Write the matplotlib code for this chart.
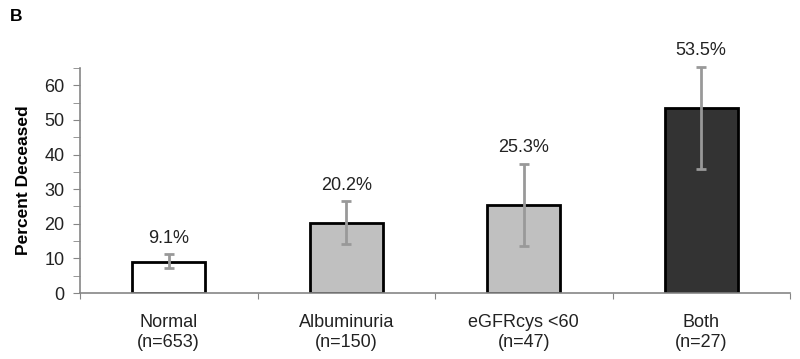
import matplotlib
matplotlib.use("Agg")
import matplotlib.pyplot as plt
import numpy as np
from matplotlib.ticker import MultipleLocator

categories = ["Normal\n(n=653)", "Albuminuria\n(n=150)", "eGFRcys <60\n(n=47)", "Both\n(n=27)"]
values = [9.1, 20.2, 25.3, 53.5]
err_low = [7.3, 14.2, 13.6, 35.7]
err_high = [11.2, 26.5, 37.4, 65.3]
labels = ["9.1%", "20.2%", "25.3%", "53.5%"]
colors = ["#ffffff", "#c0c0c0", "#c0c0c0", "#333333"]

plt.rcParams['font.family'] = ['Liberation Sans', 'DejaVu Sans']

fig = plt.figure(figsize=(8, 3.59), dpi=100)
ax = fig.add_axes([0.1, 0.1838, 0.8875, 0.6268])

x = np.arange(len(values))
ax.bar(x, values, width=0.41, color=colors, edgecolor="black", linewidth=2, zorder=2)
yerr = [np.array(values) - np.array(err_low), np.array(err_high) - np.array(values)]
eb = ax.errorbar(x, values, yerr=yerr, fmt="none", ecolor="#999999", elinewidth=2,
                 capsize=3.3, capthick=2, zorder=3)
for artist in eb.lines[1] + eb.lines[2]:
    artist.set_clip_on(False)
for xi, top, lab in zip(x, err_high, labels):
    ax.annotate(lab, (xi, top), xytext=(0, 5.5), textcoords="offset points",
                ha="center", va="bottom", fontsize=13, color="#222222",
                annotation_clip=False)

ax.set_xlim(-0.5, len(values) - 0.5)
ax.set_ylim(0, 65)
ax.yaxis.set_major_locator(MultipleLocator(10))
ax.yaxis.set_minor_locator(MultipleLocator(5))
ax.set_xticks(np.arange(-0.5, len(values), 1.0))
ax.set_xticklabels([])
ax.set_xticks(x, minor=True)
ax.set_xticklabels(categories, minor=True, fontsize=13, color="#222222", linespacing=1.25)
ax.tick_params(axis="x", which="minor", length=0, pad=15)
ax.tick_params(axis="x", which="major", length=4, color="#868686", direction="out")
ax.tick_params(axis="y", which="both", length=5, color="#868686", direction="out",
               labelsize=13, labelcolor="#222222", pad=6)

for s in ["top", "right"]:
    ax.spines[s].set_visible(False)
for s in ["left", "bottom"]:
    ax.spines[s].set_color("#868686")
    ax.spines[s].set_linewidth(1.2)

ax.set_ylabel("Percent Deceased", fontsize=12.5, fontweight="bold", labelpad=10)
fig.text(0.0125, 0.955, "B", fontsize=12.5, fontweight="bold", va="center", ha="left")

fig.savefig("out.png", dpi=100)
